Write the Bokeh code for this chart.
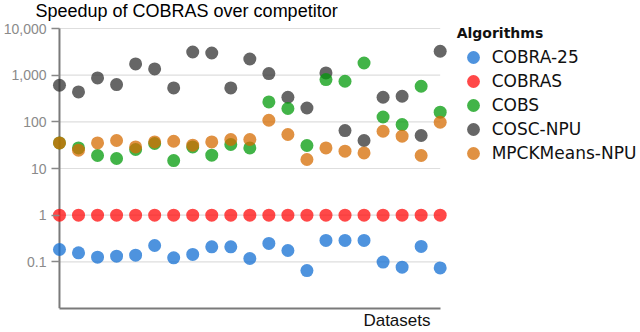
import math
from bokeh.plotting import figure
from bokeh.models import (Range1d, FixedTicker, NumeralTickFormatter, Legend,
                          LegendItem, Title)
from bokeh.embed import file_html
from bokeh.resources import INLINE

# ---------------- data ----------------
datasets = list(range(21))
cobra25 = [0.184, 0.156, 0.126, 0.132, 0.139, 0.224, 0.122, 0.144, 0.21, 0.21,
           0.118, 0.248, 0.175, 0.065, 0.287, 0.287, 0.287, 0.099, 0.077, 0.214, 0.074]
cobras = [1, 1, 1, 1, 1, 1, 1, 1, 1, 1, 1, 1, 1, 1, 1, 1, 1, 1, 1, 1, 1]
cobs = [35.3, 27.6, 19.0, 16.4, 25.5, 34.3, 14.8, 29.0, 19.3, 32.7,
        27.6, 267, 193, 31.1, 805, 740, 1824, 127, 87.5, 578, 161]
cosc_npu = [608, 437, 871, 629, 1738, 1358, 532, 3140, 2987, 532,
            2223, 1082, 336, 198, 1115, 65, 39.8, 336, 353, 50.9, 3250]
mpckmeans_npu = [35.3, 24.7, 35.3, 39.8, 29.0, 37.1, 38.4, 31.6, 37.1, 41.8,
                 41.8, 108, 53.5, 15.6, 27.6, 23.5, 21.6, 62.9, 49.2, 19.0, 98]
y_ticks = [0.1, 1, 10, 100, 1000, 10000]
y_min, y_max = 0.01, 10000

series = [
    ("COBRA-25", cobra25, "#136fd3"),
    ("COBRAS", cobras, "#ff0b0b"),
    ("COSC-NPU", cosc_npu, "#333333"),
    ("COBS", cobs, "#039b0b"),
    ("MPCKMeans-NPU", mpckmeans_npu, "#d66c03"),
]
legend_order = ["COBRA-25", "COBRAS", "COBS", "COSC-NPU", "MPCKMeans-NPU"]

# ---------------- layout ----------------
W, H = 640, 332
L, R, T, B = 49, 0, 22, 24
frame_w = W - L - R
frame_h = H - T - B
axis_top = 28                     # page y of the y-axis top (y_max)
frame_bottom = H - B
x_first_px = 8                    # first dataset column, from frame left
x_last_px = 390                   # last dataset column, from frame left
n = len(datasets)
ppu = (x_last_px - x_first_px) / (n - 1)
x_start = datasets[0] - x_first_px / ppu
x_end = x_start + frame_w / ppu
lo, hi = math.log10(y_min), math.log10(y_max)
y_top = 10 ** (lo + (hi - lo) * frame_h / (frame_bottom - axis_top))

p = figure(width=W, height=H, output_backend="svg", toolbar_location=None,
           y_axis_type="log",
           x_range=Range1d(x_start, x_end), y_range=Range1d(y_min, y_top),
           min_border_left=L, min_border_right=R, min_border_top=T,
           min_border_bottom=B)
p.outline_line_color = None
p.xgrid.visible = False
p.ygrid.visible = False
p.background_fill_color = "white"
p.border_fill_color = "white"

p.title.text = "Speedup of COBRAS over competitor"
p.title.text_font = "Liberation Sans"
p.title.text_font_size = "18px"
p.title.text_font_style = "normal"
p.title.text_color = "#000000"
p.title.align = "left"
p.title.offset = -16
p.title.standoff = 0
p.title.vertical_align = "top"

axis_col = "#7a7a7a"

# horizontal grid lines spanning the data extent
p.segment(x0=datasets[0], x1=datasets[-1], y0=y_ticks, y1=y_ticks,
          line_color="#dedede", line_width=1.2)

# y axis
yax = p.yaxis[0]
yax.ticker = FixedTicker(ticks=y_ticks)
yax.formatter = NumeralTickFormatter(format="0,0.[0]")
yax.axis_line_alpha = 0
yax.major_tick_in = 8
yax.major_tick_out = 0
yax.major_tick_line_color = "#888888"
yax.major_tick_line_width = 1.5
yax.minor_tick_line_color = None
yax.major_label_standoff = 5
yax.major_label_text_font = "Liberation Sans"
yax.major_label_text_font_size = "14px"
yax.major_label_text_color = "#8a8a8a"
# vertical axis line at the first dataset column
p.segment(x0=datasets[0], x1=datasets[0], y0=y_min, y1=y_max,
          line_color=axis_col, line_width=2)

# x axis: just a line under the data extent
xax = p.xaxis[0]
xax.ticker = FixedTicker(ticks=[])
xax.major_label_text_font_size = "0px"
xax.major_tick_line_color = None
xax.minor_tick_line_color = None
xax.axis_line_color = axis_col
xax.axis_line_width = 2
xax.bounds = (datasets[0], datasets[-1])

p.add_layout(Title(text="Datasets", align="right", offset=210,
                   text_font="Liberation Sans", text_font_size="17px",
                   text_font_style="normal", text_color="#111111",
                   standoff=0), "below")

# points
renderers = {}
for name, vals, col in series:
    r = p.scatter(x=datasets, y=vals, size=13, fill_color=col,
                  fill_alpha=0.75, line_color=None)
    renderers[name] = r

# legend: one block per entry so the rows sit 24px apart with 13px dots
legend_left = 454.7 - L                          # frame-relative
row_centers = [56.7, 80.5, 104.5, 128.5, 152.7]  # page y of each row
glyph_box = 32
common = dict(orientation="vertical", label_text_font="DejaVu Sans",
              label_text_font_size="17px", label_text_color="#111111",
              glyph_width=glyph_box, glyph_height=glyph_box, spacing=0,
              label_standoff=3, label_height=20, padding=0, margin=0,
              border_line_alpha=0, background_fill_alpha=0)
for i, nm in enumerate(legend_order):
    bottom = row_centers[i] + glyph_box / 2      # page y of block bottom
    kw = dict(common)
    if i == 0:
        kw.update(title="Algorithms", title_text_font="DejaVu Sans",
                  title_text_font_style="bold", title_text_font_size="14px",
                  title_text_color="#111111", title_standoff=0)
    lg = Legend(items=[LegendItem(label=nm, renderers=[renderers[nm]])],
                location=(legend_left, frame_bottom - bottom), **kw)
    p.add_layout(lg)

open("out.html", "w").write(file_html(p, INLINE))
